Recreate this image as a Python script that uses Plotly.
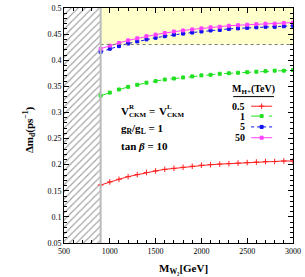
import plotly.graph_objects as go

mw2 = [900, 1000, 1100, 1200, 1300, 1400, 1500, 1600, 1700, 1800, 1900, 2000,
       2100, 2200, 2300, 2400, 2500, 2600, 2700, 2800, 2900, 3000]
dm_05 = [0.161, 0.167, 0.172, 0.177, 0.181, 0.185, 0.188, 0.191, 0.193, 0.195, 0.197,
         0.199, 0.200, 0.201, 0.202, 0.203, 0.204, 0.205, 0.206, 0.206, 0.207, 0.207]
dm_1 = [0.332, 0.338, 0.344, 0.349, 0.353, 0.357, 0.360, 0.363, 0.365, 0.367, 0.369,
        0.371, 0.372, 0.374, 0.375, 0.376, 0.377, 0.378, 0.379, 0.380, 0.380, 0.381]
dm_5 = [0.416, 0.422, 0.427, 0.432, 0.436, 0.440, 0.443, 0.446, 0.449, 0.451, 0.453,
        0.455, 0.457, 0.458, 0.460, 0.461, 0.462, 0.463, 0.464, 0.464, 0.465, 0.466]
dm_50 = [0.422, 0.428, 0.433, 0.438, 0.442, 0.446, 0.449, 0.452, 0.455, 0.457, 0.459,
         0.461, 0.463, 0.464, 0.466, 0.467, 0.468, 0.469, 0.470, 0.470, 0.471, 0.472]
legend_labels = ["0.5", "1", "5", "50"]
y_ticks = [0.05, 0.1, 0.15, 0.2, 0.25, 0.3, 0.35, 0.4, 0.45, 0.5]
y_ticktext = ["0.05", "0.1", "0.15", "0.2", "0.25", "0.3", "0.35", "0.4", "0.45", "0.5"]
x_ticks = [500, 1000, 1500, 2000, 2500, 3000]
excluded = [500, 900]
band = [0.43, 0.5]

SERIF = "Liberation Serif, DejaVu Serif, serif"
styles = [
    dict(color="#ff2020", dash="solid", symbol="cross-thin-open", size=4),
    dict(color="#20e020", dash="dash", symbol="square", size=3),
    dict(color="#1010f0", dash="dot", symbol="square", size=3),
    dict(color="#ff40ff", dash="solid", symbol="square", size=3),
]
series = [dm_05, dm_1, dm_5, dm_50]

fig = go.Figure()

# excluded hatched region
fig.add_trace(go.Scatter(
    x=[excluded[0], excluded[1], excluded[1], excluded[0], excluded[0]],
    y=[0.05, 0.05, 0.5, 0.5, 0.05], fill="toself", mode="lines",
    line=dict(width=0, color="rgba(0,0,0,0)"),
    fillpattern=dict(shape="/", fgcolor="#444444", bgcolor="white", size=5, solidity=0.22),
    fillcolor="white", showlegend=False, hoverinfo="skip"))
# yellow band
fig.add_shape(type="rect", x0=excluded[1], x1=3000, y0=band[0], y1=band[1],
              fillcolor="#ffffcc", line=dict(width=0), layer="below")
fig.add_shape(type="line", x0=excluded[1], x1=3000, y0=band[0], y1=band[0],
              line=dict(color="#777777", width=1, dash="dot"))
fig.add_shape(type="line", x0=excluded[1], x1=excluded[1], y0=0.05, y1=0.5,
              line=dict(color="#bbbbbb", width=2))

for s, st in zip(series, styles):
    fig.add_trace(go.Scatter(
        x=mw2, y=s, mode="lines+markers",
        line=dict(color=st["color"], width=1, dash=st["dash"]),
        marker=dict(symbol=st["symbol"], size=st["size"], color=st["color"],
                    line=dict(color=st["color"], width=1)),
        showlegend=False))

# legend samples on an overlay axis in paper-like units
leg_y = [0.582, 0.540, 0.494, 0.448]
for lab, yy, st in zip(legend_labels, leg_y, styles):
    fig.add_trace(go.Scatter(
        x=[0.817, 0.909], y=[yy, yy], mode="lines", xaxis="x2", yaxis="y2",
        line=dict(color=st["color"], width=1, dash=st["dash"]), showlegend=False))
    fig.add_trace(go.Scatter(
        x=[0.863], y=[yy], mode="markers", xaxis="x2", yaxis="y2",
        marker=dict(symbol=st["symbol"], size=st["size"], color=st["color"],
                    line=dict(color=st["color"], width=1)), showlegend=False))
    fig.add_annotation(x=0.80, y=yy, xref="paper", yref="paper", text=f"<b>{lab}</b>",
                       showarrow=False, xanchor="right", yanchor="middle",
                       font=dict(family=SERIF, size=10, color="black"))

fig.add_annotation(x=0.828, y=0.655, xref="paper", yref="paper",
                   text="<b>M<sub>H+</sub>(TeV)</b>", showarrow=False,
                   xanchor="center", yanchor="middle",
                   font=dict(family=SERIF, size=10, color="black"))
fig.add_shape(type="line", xref="paper", yref="paper", x0=0.739, x1=0.917,
              y0=0.623, y1=0.623, line=dict(color="black", width=1))

def px_x(p):
    return (p - 64) / 230.0

def px_y(p):
    return (243 - p) / 239.0

def txt(x, y, t, size=11, anchor="left"):
    fig.add_annotation(x=px_x(x), y=px_y(y), xref="paper", yref="paper", text=t,
                       showarrow=False, xanchor=anchor, yanchor="middle",
                       font=dict(family=SERIF, size=size, color="black"))

txt(119, 109, "<b>V</b>")
txt(127, 105, "<b>R</b>", 7)
txt(127, 113, "<b>CKM</b>", 7)
txt(147, 109, "<b>=</b>")
txt(157, 109, "<b>V</b>")
txt(165, 105, "<b>L</b>", 7)
txt(165, 113, "<b>CKM</b>", 7)
txt(119, 127, "<b>g<sub>R</sub>/g<sub>L</sub> = 1</b>")
txt(119, 144, "<b>tan <i>β</i> = 10</b>")

fig.add_annotation(x=px_x(29), y=px_y(128), xref="paper", yref="paper",
                   text="<b>Δm<sub>d</sub>(ps<sup>−1</sup>)</b>", textangle=-90,
                   showarrow=False, xanchor="center", yanchor="middle",
                   font=dict(family=SERIF, size=11, color="black"))
fig.add_annotation(x=px_x(184), y=px_y(269), xref="paper", yref="paper",
                   text="<b>M<sub>W₂</sub>[GeV]</b>",
                   showarrow=False, xanchor="center", yanchor="middle",
                   font=dict(family=SERIF, size=11, color="black"))

axis_common = dict(showline=True, linecolor="black", linewidth=1, mirror="ticks",
                   ticks="inside", ticklen=5, tickcolor="black", showgrid=False,
                   zeroline=False, ticklabeloverflow="allow",
                   tickfont=dict(family=SERIF, size=8, color="black"))
fig.update_layout(
    width=305, height=277, margin=dict(l=64, r=11, t=4, b=34),
    paper_bgcolor="white", plot_bgcolor="white", showlegend=False,
    xaxis=dict(range=[500, 3000], tickmode="array", tickvals=x_ticks,
               minor=dict(dtick=100, tick0=500, ticks="inside", ticklen=3, tickcolor="black"),
               **axis_common),
    yaxis=dict(range=[0.05, 0.5], tickmode="array", tickvals=y_ticks, ticktext=y_ticktext,
               minor=dict(dtick=0.01, tick0=0.05, ticks="inside", ticklen=3, tickcolor="black"),
               **axis_common),
    xaxis2=dict(range=[0, 1], overlaying="x", visible=False, domain=[0, 1]),
    yaxis2=dict(range=[0, 1], overlaying="y", visible=False),
)

fig.write_html("out.html", config={"displayModeBar": False},
               post_script="document.body.style.margin='0';document.body.style.padding='0';document.body.style.overflow='hidden';")
